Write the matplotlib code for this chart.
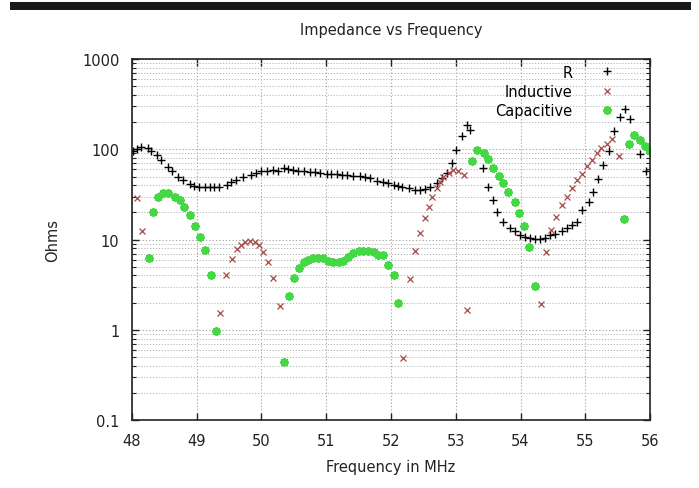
import matplotlib
matplotlib.use("Agg")
import matplotlib.pyplot as plt
from matplotlib.ticker import FixedLocator, FixedFormatter, LogLocator, NullFormatter

# impedance readings (MHz, Ohms)
r_freq = [48.02, 48.08, 48.14, 48.24, 48.30, 48.38, 48.45, 48.55, 48.62, 48.71,
          48.79, 48.89, 48.96, 49.03, 49.12, 49.20, 49.27, 49.35, 49.46, 49.53,
          49.61, 49.71, 49.84, 49.92, 50.00, 50.08, 50.18, 50.26, 50.34, 50.41,
          50.49, 50.57, 50.65, 50.75, 50.83, 50.90, 51.01, 51.08, 51.16, 51.24,
          51.32, 51.42, 51.52, 51.60, 51.68, 51.78, 51.88, 51.96, 52.04, 52.11,
          52.17, 52.27, 52.37, 52.45, 52.53, 52.60, 52.71, 52.78, 52.87, 52.94,
          53.01, 53.09, 53.17, 53.22, 53.42, 53.50, 53.58, 53.64, 53.73, 53.84,
          53.91, 53.99, 54.07, 54.15, 54.22, 54.30, 54.38, 54.46, 54.53, 54.64,
          54.71, 54.79, 54.87, 54.95, 55.05, 55.12, 55.20, 55.28, 55.36, 55.45,
          55.54, 55.61, 55.69, 55.85, 55.93]
r_ohms = [95, 102, 107, 103, 97, 87, 77, 64, 57, 50,
          46, 41.5, 39, 38, 38, 38, 38, 38, 40.4, 43,
          46, 49, 52, 54.5, 57, 58, 59, 58, 62, 61,
          59, 58, 57, 55.5, 55.5, 54.5, 53.5, 53.5, 53.5, 52,
          52, 51, 51, 50, 48, 45, 44, 42, 40.4, 39.4,
          38, 37, 35.6, 35.6, 36.2, 38, 42, 48, 54.5, 70,
          99, 141, 187, 165, 62, 38.7, 27.6, 20, 15.8, 13.4,
          12.3, 11.3, 10.8, 10.5, 10.2, 10.2, 10.4, 11.1, 11.6, 12.3,
          13.4, 14.6, 15.8, 21.3, 26, 34, 46.8, 67, 97, 160,
          227, 279, 216, 89, 58]

ind_freq = [48.07, 48.15, 49.36, 49.45, 49.54, 49.62, 49.68, 49.74, 49.82, 49.90,
            49.96, 50.02, 50.10, 50.18, 50.28, 52.19, 52.29, 52.37, 52.45, 52.52,
            52.59, 52.64, 52.71, 52.76, 52.81, 52.89, 52.96, 53.04, 53.12, 53.17,
            54.32, 54.39, 54.47, 54.54, 54.64, 54.71, 54.79, 54.87, 54.95, 55.02,
            55.10, 55.18, 55.25, 55.33, 55.41, 55.52]
ind_ohms = [28.8, 12.5, 1.53, 4.1, 6.1, 7.8, 8.7, 9.3, 9.6, 9.5,
            8.7, 7.3, 5.6, 3.8, 1.85, 0.485, 3.65, 7.4, 11.8, 17.3,
            22.9, 29.5, 37, 44, 50, 55, 59, 58, 52, 1.64,
            1.95, 7.2, 12.8, 18, 24, 30, 37, 46, 54, 65,
            77, 91, 103, 115, 130, 85]

cap_freq = [48.26, 48.32, 48.40, 48.48, 48.56, 48.66, 48.74, 48.81, 48.89, 48.97,
            49.05, 49.13, 49.22, 49.29, 50.35, 50.43, 50.50, 50.58, 50.65, 50.72,
            50.80, 50.87, 50.95, 51.03, 51.11, 51.19, 51.26, 51.34, 51.42, 51.50,
            51.57, 51.65, 51.73, 51.80, 51.88, 51.96, 52.04, 52.11, 53.25, 53.33,
            53.43, 53.50, 53.58, 53.66, 53.73, 53.81, 53.92, 53.98, 54.05, 54.13,
            54.23, 55.59, 55.67, 55.75, 55.85, 55.92, 56.00]
cap_ohms = [6.2, 20, 30, 32.7, 32.7, 30, 27.6, 22.9, 18.8, 14,
            10.8, 7.6, 4.0, 0.96, 0.435, 2.34, 3.8, 4.9, 5.7, 6.0,
            6.2, 6.3, 6.2, 5.85, 5.6, 5.6, 5.85, 6.4, 7.1, 7.4,
            7.5, 7.4, 7.2, 6.8, 6.8, 5.25, 4.05, 1.97, 75, 99,
            91, 78, 62, 51, 42, 34, 26.4, 19.6, 14, 8.3,
            3.07, 16.8, 115, 143, 128, 110, 95]

x_ticks = [48, 49, 50, 51, 52, 53, 54, 55, 56]
y_ticks = [0.1, 1, 10, 100, 1000]
y_labels = ["0.1", "1", "10", "100", "1000"]

fig = plt.figure(figsize=(6.99, 4.89), dpi=100)
ax = fig.add_axes([0.1888, 0.139, 0.7412, 0.738])

# black bar at the top of the page
fig.add_artist(plt.Rectangle((0.014, 0.978), 0.974, 0.016, transform=fig.transFigure,
                             color="#1a1a1a", lw=0))

ax.plot(r_freq, r_ohms, ls="none", marker="+", ms=6, mew=1.0, color="black", label="R")
ax.plot(ind_freq, ind_ohms, ls="none", marker="x", ms=5, mew=0.9, color="#a84848",
        label="Inductive")
ax.plot(cap_freq, cap_ohms, ls="none", marker=(8, 2, 0), ms=6.2, mew=1.4, color="#44d844",
        label="Capacitive")

ax.set_yscale("log")
ax.set_xlim(48, 56)
ax.set_ylim(0.1, 1000)
ax.xaxis.set_major_locator(FixedLocator(x_ticks))
ax.yaxis.set_major_locator(FixedLocator(y_ticks))
ax.yaxis.set_major_formatter(FixedFormatter(y_labels))
ax.yaxis.set_minor_locator(LogLocator(base=10, subs=range(2, 10)))
ax.yaxis.set_minor_formatter(NullFormatter())

ax.grid(True, which="major", color="#aaaaaa", ls=(0, (1.2, 1.8)), lw=0.8)
ax.grid(True, which="minor", axis="y", color="#b4b4b4", ls=(0, (1.2, 1.8)), lw=0.7)
ax.tick_params(which="both", direction="in", top=True, right=True, labelsize=10.5,
               colors="#222222", pad=9)
ax.tick_params(which="major", length=5, width=1)
ax.tick_params(which="minor", length=3, width=0.8)
for s in ax.spines.values():
    s.set_linewidth(1.2)
    s.set_color("#222222")

ax.set_title("Impedance vs Frequency", fontsize=10.5, color="#222222", pad=18)
ax.set_xlabel("Frequency in MHz", fontsize=10.5, color="#222222", labelpad=8)
ax.set_ylabel("Ohms", fontsize=10.5, color="#222222", labelpad=16)

ax.legend(loc="upper right", bbox_to_anchor=(0.94, 0.985), frameon=False,
          markerfirst=False, fontsize=10.5, handlelength=1.6, handletextpad=1.6,
          labelspacing=0.3, borderpad=0, borderaxespad=0)

fig.savefig("out.png", dpi=100)
